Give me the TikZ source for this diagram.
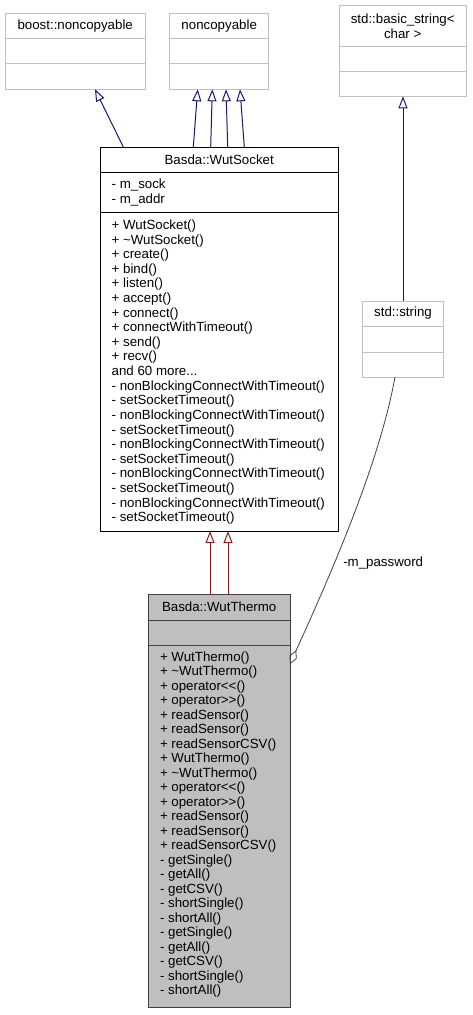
\documentclass[tikz,border=0pt]{standalone}
\usepackage{fontspec}
\setmainfont{Liberation Sans}
\usetikzlibrary{arrows.meta}
\definecolor{inhblue}{HTML}{191970}
\definecolor{inhred}{HTML}{8B1A1A}
\definecolor{boxfill}{HTML}{BFBFBF}
\definecolor{lightline}{HTML}{C0C0C0}
\definecolor{usegrey}{HTML}{404040}
\begin{document}
\begin{tikzpicture}[x=1pt,y=-1pt,
  every node/.style={inner sep=0pt, outer sep=0pt},
  txt/.style={font=\fontsize{13.3}{#1}\selectfont, align=left, anchor=north west},
  txt/.default=14.6,
  ttl/.style={font=\fontsize{13.3}{14.7}\selectfont, anchor=base},
  lightbox/.style={draw=lightline, line width=1pt, fill=white, anchor=north west},
  darkbox/.style={draw=black, line width=1pt, fill=white, anchor=north west},
  mainbox/.style={draw=black!75, line width=1pt, fill=boxfill, anchor=north west},
  inhpub/.style={draw=inhblue, line width=1pt, -{Triangle[open, length=12pt, width=9pt]}},
  inhpriv/.style={draw=inhred, line width=1pt, -{Triangle[open, length=12pt, width=9pt]}},
  usage/.style={draw=usegrey, line width=0.8pt, -{Diamond[open, length=15pt, width=8pt]}}
]
\useasboundingbox (0,0) rectangle (472,1015);

% boost::noncopyable
\node[lightbox, minimum width=140.3pt, minimum height=76pt] (bn) at (5,13.3) {};
\draw[lightline, line width=1pt] (bn.west |- 0,38.3) -- (bn.east |- 0,38.3);
\draw[lightline, line width=1pt] (bn.west |- 0,63.7) -- (bn.east |- 0,63.7);
\node[ttl] (bnt) at (75.2,29.3) {boost::noncopyable};

% noncopyable
\node[lightbox, minimum width=99pt, minimum height=76pt] (nc) at (169.7,13.3) {};
\draw[lightline, line width=1pt] (nc.west |- 0,38.3) -- (nc.east |- 0,38.3);
\draw[lightline, line width=1pt] (nc.west |- 0,63.7) -- (nc.east |- 0,63.7);
\node[ttl] (nct) at (219.2,29.3) {noncopyable};

% std::basic_string<char>
\node[lightbox, minimum width=126.7pt, minimum height=90.6pt] (bs) at (339.3,5.7) {};
\draw[lightline, line width=1pt] (bs.west |- 0,46.3) -- (bs.east |- 0,46.3);
\draw[lightline, line width=1pt] (bs.west |- 0,71) -- (bs.east |- 0,71);
\node[font=\fontsize{13.3}{14.7}\selectfont, align=center, anchor=north] (bst) at (402.7,13.9) {\rule{0pt}{9.8pt}std::basic\_string<\\char >};

% Basda::WutSocket
\node[darkbox, minimum width=238.3pt, minimum height=384pt] (ws) at (100,147) {};
\draw[black, line width=1pt] (ws.west |- 0,172.3) -- (ws.east |- 0,172.3);
\draw[black, line width=1pt] (ws.west |- 0,212) -- (ws.east |- 0,212);
\node[ttl] (wst) at (219.2,164) {Basda::WutSocket};
\node[txt=14.7] (wsa) at (111.7,178.9) {\rule{0pt}{9.8pt}- m\_sock\\- m\_addr};
\node[txt=14.61] (wsm) at (111.7,219.7) {\rule{0pt}{9.8pt}+ WutSocket()\\
+ \textasciitilde WutSocket()\\
+ create()\\
+ bind()\\
+ listen()\\
+ accept()\\
+ connect()\\
+ connectWithTimeout()\\
+ send()\\
+ recv()\\
and 60 more...\\
- nonBlockingConnectWithTimeout()\\
- setSocketTimeout()\\
- nonBlockingConnectWithTimeout()\\
- setSocketTimeout()\\
- nonBlockingConnectWithTimeout()\\
- setSocketTimeout()\\
- nonBlockingConnectWithTimeout()\\
- setSocketTimeout()\\
- nonBlockingConnectWithTimeout()\\
- setSocketTimeout()};

% std::string
\node[lightbox, minimum width=80.6pt, minimum height=76pt] (ss) at (362.7,301) {};
\draw[lightline, line width=1pt] (ss.west |- 0,326.7) -- (ss.east |- 0,326.7);
\draw[lightline, line width=1pt] (ss.west |- 0,352) -- (ss.east |- 0,352);
\node[ttl] (sst) at (403,316.5) {std::string};

% Basda::WutThermo
\node[mainbox, minimum width=141.7pt, minimum height=413pt] (wt) at (148.3,594.7) {};
\draw[black!75, line width=1pt] (wt.west |- 0,620.7) -- (wt.east |- 0,620.7);
\draw[black!75, line width=1pt] (wt.west |- 0,645.7) -- (wt.east |- 0,645.7);
\node[ttl] (wtt) at (219.2,611) {Basda::WutThermo};
\node[txt=14.49] (wtm) at (160,651.5) {\rule{0pt}{9.8pt}+ WutThermo()\\
+ \textasciitilde WutThermo()\\
+ operator<\kern0pt<()\\
+ operator>\kern0pt>()\\
+ readSensor()\\
+ readSensor()\\
+ readSensorCSV()\\
+ WutThermo()\\
+ \textasciitilde WutThermo()\\
+ operator<\kern0pt<()\\
+ operator>\kern0pt>()\\
+ readSensor()\\
+ readSensor()\\
+ readSensorCSV()\\
- getSingle()\\
- getAll()\\
- getCSV()\\
- shortSingle()\\
- shortAll()\\
- getSingle()\\
- getAll()\\
- getCSV()\\
- shortSingle()\\
- shortAll()};

% inheritance connectors
\draw[inhpub] (ws.north -| 123.3,0) -- (bn.south -| 95,0);
\draw[inhpub] (ws.north -| 193.3,0) -- (nc.south -| 197.7,0);
\draw[inhpub] (ws.north -| 210.7,0) -- (nc.south -| 212.3,0);
\draw[inhpub] (ws.north -| 227.7,0) -- (nc.south -| 226,0);
\draw[inhpub] (ws.north -| 244.3,0) -- (nc.south -| 240,0);
\draw[inhpub] (ss.north -| 403,0) -- (bs.south -| 403,0);
\draw[inhpriv] (wt.north -| 210,0) -- (ws.south -| 210,0);
\draw[inhpriv] (wt.north -| 228,0) -- (ws.south -| 228,0);

% usage connector
\draw[usage] (ss.south -| 395,0) .. controls (380,460) and (335,565) .. (wt.east |- 0,664);
\node[font=\fontsize{13.3}{14.7}\selectfont, anchor=base west] (pwl) at (343.3,566.5) {-m\_password};
\end{tikzpicture}
\end{document}
